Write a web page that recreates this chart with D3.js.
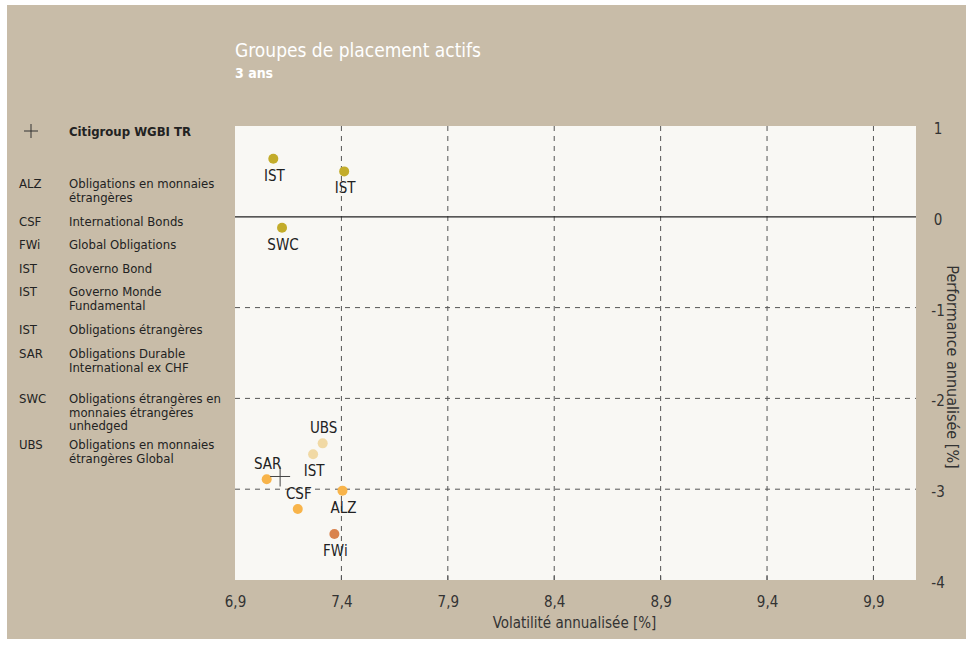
<!DOCTYPE html>
<html><head><meta charset="utf-8">
<script src="https://cdn.jsdelivr.net/npm/d3@7"></script>
<style>
html,body{margin:0;padding:0;background:#fff;}
svg text{font-family:"Liberation Sans Narrow","DejaVu Sans Condensed","Roboto Condensed",sans-serif;}
</style></head>
<body>
<svg id="c" width="966" height="647"></svg>
<script>
// ---- data ----
const codes  = ["IST","IST","SWC","UBS","IST","SAR","ALZ","CSF","FWi"];
const vol    = [7.08, 7.413, 7.121, 7.312, 7.267, 7.049, 7.405, 7.195, 7.367];
const perf   = [0.64, 0.50, -0.12, -2.495, -2.616, -2.89, -3.016, -3.218, -3.493];
const colors = ["#c3ac2a","#c3ac2a","#c3ac2a","#f1d9a4","#f1d9a4","#f8b44a","#f8b44a","#f8b44a","#d9834d"];
const labelPos = ["below","below","below","above","below","above","below","above","below"];
const benchName = "Citigroup WGBI TR";
const benchVol = 7.112, benchPerf = -2.86;
const xTicks = [6.9, 7.4, 7.9, 8.4, 8.9, 9.4, 9.9];
const yTicks = [1, 0, -1, -2, -3, -4];
const legendCodes = ["ALZ","CSF","FWi","IST","IST","IST","SAR","SWC","UBS"];
const legendNames = [
  ["Obligations en monnaies","étrangères"],
  ["International Bonds"],
  ["Global Obligations"],
  ["Governo Bond"],
  ["Governo Monde","Fundamental"],
  ["Obligations étrangères"],
  ["Obligations Durable","International ex CHF"],
  ["Obligations étrangères en","monnaies étrangères","unhedged"],
  ["Obligations en monnaies","étrangères Global"]
];
const title = "Groupes de placement actifs";
const subtitle = "3 ans";
const xTitle = "Volatilité annualisée [%]";
const yTitle = "Performance annualisée [%]";

// ---- layout ----
const svg = d3.select("#c");
svg.append("rect").attr("x",7).attr("y",5).attr("width",959).attr("height",634).attr("fill","#c8bca8");

const L = 235, R = 916, T = 126, B = 580;
const x = d3.scaleLinear().domain([6.9, 10.1]).range([L, R]);
const y = d3.scaleLinear().domain([-4, 1]).range([B, T]);
const fmt = d => d3.format(".1f")(d).replace(".", ",");

svg.append("rect").attr("x",L).attr("y",T).attr("width",R-L).attr("height",B-T).attr("fill","#f9f8f4");

// title
svg.append("text").attr("x",L).attr("y",57).attr("fill","#fff").attr("font-size",19).text(title);
svg.append("text").attr("x",L).attr("y",78).attr("fill","#fff").attr("font-size",14).attr("font-weight","bold").text(subtitle);

// grid
const g = svg.append("g");
g.selectAll(".vg").data(xTicks.slice(1)).join("line")
  .attr("x1",d=>x(d)).attr("x2",d=>x(d)).attr("y1",T).attr("y2",B)
  .attr("stroke","#555").attr("stroke-width",1).attr("stroke-dasharray","5,5");
g.selectAll(".hg").data(yTicks.filter(d=>d<0 && d>-4)).join("line")
  .attr("x1",L).attr("x2",R).attr("y1",d=>y(d)).attr("y2",d=>y(d))
  .attr("stroke","#555").attr("stroke-width",1).attr("stroke-dasharray","5,5");
g.append("line").attr("x1",L).attr("x2",R).attr("y1",y(0)).attr("y2",y(0)).attr("stroke","#222").attr("stroke-width",1.2);

// x axis
const xa = svg.append("g").attr("transform",`translate(0,${B})`)
  .call(d3.axisBottom(x).tickValues(xTicks).tickFormat(fmt).tickSize(0).tickPadding(16));
xa.select(".domain").remove();
xa.selectAll("text").attr("font-size",15).attr("fill","#333");
svg.selectAll(".xt").data(xTicks.slice(1)).join("line")
  .attr("x1",d=>x(d)).attr("x2",d=>x(d)).attr("y1",B-5).attr("y2",B).attr("stroke","#555");

// y axis (right)
const ya = svg.append("g").attr("transform",`translate(${R+22},0)`)
  .call(d3.axisRight(y).tickValues(yTicks).tickFormat(d=>d).tickSize(0).tickPadding(0));
ya.select(".domain").remove();
ya.selectAll("text").attr("font-size",15).attr("fill","#333").attr("text-anchor","middle").attr("dy","0.5em");

// axis titles
svg.append("text").attr("x",(L+R)/2 - 1).attr("y",628).attr("text-anchor","middle").attr("font-size",15).attr("fill","#333").text(xTitle);
svg.append("text").attr("transform",`translate(${947},${367}) rotate(90)`).attr("text-anchor","middle").attr("font-size",16).attr("fill","#333").text(yTitle);

// points
const pts = codes.map((c,i)=>({c, v:vol[i], p:perf[i], col:colors[i], lp:labelPos[i]}));
svg.selectAll(".pt").data(pts).join("circle")
  .attr("cx",d=>x(d.v)).attr("cy",d=>y(d.p)).attr("r",5).attr("fill",d=>d.col);
svg.selectAll(".lb").data(pts).join("text")
  .attr("x",d=>x(d.v)+1).attr("y",d=>y(d.p)+(d.lp==="below"?22:-10))
  .attr("text-anchor","middle").attr("font-size",15).attr("fill","#222").text(d=>d.c);

// benchmark cross
const bx = x(benchVol), by = y(benchPerf);
svg.append("path").attr("d",`M${bx-10},${by}H${bx+10}M${bx},${by-10}V${by+10}`).attr("stroke","#444").attr("stroke-width",1);

// legend
svg.append("path").attr("d","M24,131H38M31,124V138").attr("stroke","#333").attr("stroke-width",1);
svg.append("text").attr("x",69).attr("y",136).attr("font-size",13).attr("font-weight","bold").attr("fill","#222").text(benchName);
const legY = [188, 226, 249, 273, 296, 334, 358, 403, 449];
legendCodes.forEach((c,i)=>{
  svg.append("text").attr("x",19).attr("y",legY[i]).attr("font-size",13).attr("fill","#222").text(c);
  const t = svg.append("text").attr("x",69).attr("y",legY[i]).attr("font-size",13).attr("fill","#222");
  legendNames[i].forEach((s,j)=>t.append("tspan").attr("x",69).attr("dy",j?13.5:0).text(s));
});
</script>
</body></html>
